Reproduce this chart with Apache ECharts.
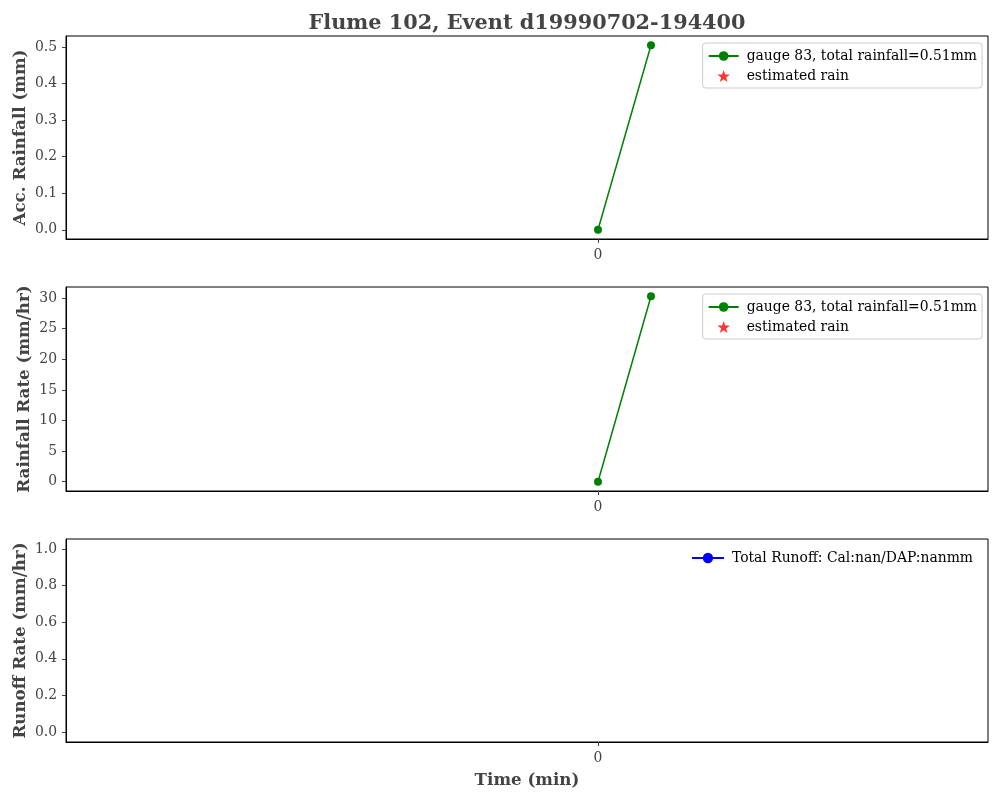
<!DOCTYPE html>
<html><head><meta charset="utf-8">
<script src="https://cdn.jsdelivr.net/npm/echarts@6/dist/echarts.min.js"></script>
<style>html,body{margin:0;padding:0;background:#fff}#c{width:1000px;height:800px}</style>
</head><body><div id="c"></div>
<script>
const timeMin = [0, 1];
const accRain = [0, 0.505];
const rainRate = [0, 30.3];
const estimatedRain = [];
const runoff = [];
const titleText = 'Flume 102, Event d19990702-194400';
const gaugeLabel = 'gauge 83, total rainfall=0.51mm';
const estLabel = 'estimated rain';
const runoffLabel = 'Total Runoff: Cal:nan/DAP:nanmm';
const yNames = ['Acc. Rainfall (mm)', 'Rainfall Rate (mm/hr)', 'Runoff Rate (mm/hr)'];
const xTickVals = [0];
const yTickVals = [[0,0.1,0.2,0.3,0.4,0.5],[0,5,10,15,20,25,30],[0,0.2,0.4,0.6,0.8,1.0]];

const FONT = 'DejaVu Serif';
const STAR = 'path://M50,0 L61.8,35.1 L98.1,35.1 L68.8,56.8 L79.4,91.4 L50,70.5 L20.6,91.4 L31.2,56.8 L1.9,35.1 L38.2,35.1 Z';
const grids = [
  {left: 66, right: 12, top: 36, height: 203},
  {left: 66, right: 12, top: 287, height: 204},
  {left: 66, right: 12, top: 539, height: 203}
].map(g => Object.assign(g, {show: true, borderColor: '#000', borderWidth: 1, containLabel: false}));

const yRanges = [
  {min: -0.02525, max: 0.53025, dec: 1, gap: 37},
  {min: -1.515, max: 31.815, dec: 0, gap: 33},
  {min: -0.055, max: 1.055, dec: 1, gap: 37}
];

const xAxes = [0,1,2].map(i => ({
  type: 'value', gridIndex: i, min: -10.04, max: 7.36,
  axisLine: {show: true, onZero: false, lineStyle: {color: '#000', width: 1}},
  axisTick: {show: true, length: 4, lineStyle: {color: '#444', width: 1}, customValues: xTickVals},
  axisLabel: {show: true, customValues: xTickVals, color: '#444', fontFamily: FONT, fontSize: 13.9, margin: 9, formatter: v => String(Math.round(v))},
  splitLine: {show: false},
  name: i === 2 ? 'Time (min)' : '', nameLocation: 'middle', nameGap: 30, nameMoveOverlap: false,
  nameTextStyle: {fontFamily: FONT, fontSize: 16.7, fontWeight: 'bold', color: '#444'}
}));

const yAxes = [0,1,2].map(i => ({
  type: 'value', gridIndex: i, min: yRanges[i].min, max: yRanges[i].max,
  axisLine: {show: true, onZero: false, lineStyle: {color: '#000', width: 1}},
  axisTick: {show: true, length: 4, lineStyle: {color: '#444', width: 1}, customValues: yTickVals[i]},
  axisLabel: {show: true, customValues: yTickVals[i], color: '#444', fontFamily: FONT, fontSize: 13.9, margin: 9,
    formatter: v => Number(v).toFixed(yRanges[i].dec)},
  splitLine: {show: false},
  name: yNames[i], nameLocation: 'middle', nameGap: yRanges[i].gap, nameRotate: 90, nameMoveOverlap: false,
  nameTextStyle: {fontFamily: FONT, fontSize: 16.7, fontWeight: 'bold', color: '#444'}
}));

const pair = (xs, ys) => ys.map((y, k) => [xs[k], y]);

const series = [
  {name: gaugeLabel, type: 'line', xAxisIndex: 0, yAxisIndex: 0, data: pair(timeMin, accRain),
   color: '#008000', lineStyle: {width: 1.5, color: '#008000'}, symbol: 'circle', symbolSize: 8,
   itemStyle: {color: '#008000'}, animation: false},
  {name: estLabel, type: 'scatter', xAxisIndex: 0, yAxisIndex: 0, data: pair(timeMin, estimatedRain),
   symbol: STAR, symbolSize: 12, itemStyle: {color: '#ff0000'}, animation: false},
  {name: gaugeLabel + ' ', type: 'line', xAxisIndex: 1, yAxisIndex: 1, data: pair(timeMin, rainRate),
   color: '#008000', lineStyle: {width: 1.5, color: '#008000'}, symbol: 'circle', symbolSize: 8,
   itemStyle: {color: '#008000'}, animation: false},
  {name: estLabel + ' ', type: 'scatter', xAxisIndex: 1, yAxisIndex: 1, data: pair(timeMin, estimatedRain),
   symbol: STAR, symbolSize: 12, itemStyle: {color: '#ff0000'}, animation: false},
  {name: runoffLabel, type: 'line', xAxisIndex: 2, yAxisIndex: 2, data: pair(timeMin, runoff),
   color: '#0000ff', lineStyle: {width: 1.5, color: '#0000ff'}, symbol: 'circle', symbolSize: 10,
   itemStyle: {color: '#0000ff'}, animation: false}
];

const legendBase = {
  orient: 'vertical', itemWidth: 30, itemHeight: 12, itemGap: 6,
  textStyle: {fontFamily: FONT, fontSize: 13.9, color: '#000', lineHeight: 14, padding: [0, 0, 0, 3]},
  borderColor: '#cccccc', borderWidth: 1, borderRadius: 3, backgroundColor: 'rgba(255,255,255,0.8)',
  padding: [6, 5, 5, 5], selectedMode: false
};
const legends = [
  Object.assign({}, legendBase, {data: [{name: gaugeLabel}, {name: estLabel, icon: STAR}], right: 18, top: 43,
    formatter: n => n.trim()}),
  Object.assign({}, legendBase, {data: [{name: gaugeLabel + ' '}, {name: estLabel + ' ', icon: STAR}], right: 18, top: 294,
    formatter: n => n.trim()}),
  Object.assign({}, legendBase, {data: [{name: runoffLabel}], right: 22, top: 545, borderWidth: 0, backgroundColor: 'transparent',
    itemHeight: 13, itemWidth: 32})
];

const chart = echarts.init(document.getElementById('c'), null, {renderer: 'canvas'});
chart.setOption({
  animation: false,
  backgroundColor: '#fff',
  title: {text: titleText, left: 522, top: 8, textAlign: 'center',
    textStyle: {fontFamily: FONT, fontSize: 20.8, fontWeight: 'bold', color: '#444'}},
  grid: grids, xAxis: xAxes, yAxis: yAxes, legend: legends, series: series
});
</script></body></html>
